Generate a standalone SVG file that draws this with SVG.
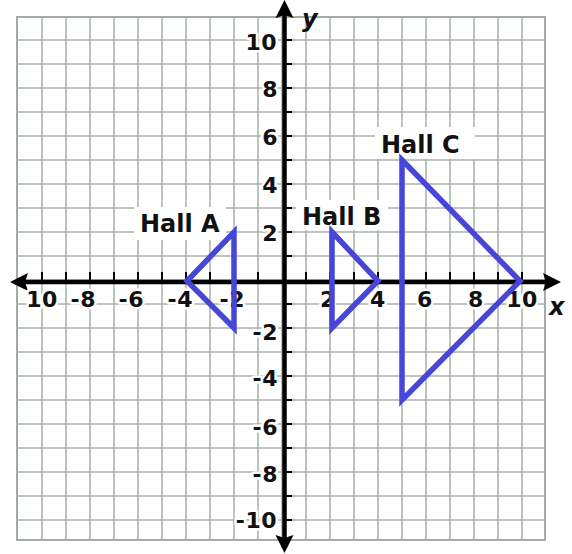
<svg xmlns="http://www.w3.org/2000/svg" width="572" height="554" viewBox="0 0 572 554">
<style>
.grid{stroke:#a9b1a9;stroke-width:1.5;fill:none}
.border{stroke:#a3ada3;stroke-width:2;fill:none}
.axis{stroke:#000;stroke-width:4.5;fill:none}
.tick{stroke:#000;stroke-width:2;fill:none}
.arrow{fill:#000}
.tri{stroke:#4646d8;stroke-width:5.5;fill:none;stroke-linejoin:miter}
.num{font-family:"DejaVu Sans","Liberation Sans",sans-serif;font-weight:bold;font-size:22px;letter-spacing:0.5px;fill:#111;stroke:#fff;stroke-width:5;paint-order:stroke;stroke-linejoin:round}
.lbl{font-family:"DejaVu Sans","Liberation Sans",sans-serif;font-weight:bold;font-size:24px;fill:#111}
.var{font-family:"DejaVu Sans","Liberation Sans",sans-serif;font-weight:bold;font-style:italic;font-size:24px;fill:#111}
.bg{fill:#fff}
</style>
<rect width="572" height="554" fill="#fff"/>
<g id="grid">
<path class="grid" d="M42,17V540M66,17V540M90,17V540M114,17V540M138,17V540M162,17V540M186,17V540M210,17V540M234,17V540M258,17V540M282,17V540M306,17V540M330,17V540M354,17V540M378,17V540M402,17V540M426,17V540M450,17V540M474,17V540M498,17V540M522,17V540"/>
<path class="grid" d="M17,40H545M17,64H545M17,88H545M17,112H545M17,136H545M17,160H545M17,184H545M17,208H545M17,232H545M17,256H545M17,280H545M17,304H545M17,328H545M17,352H545M17,376H545M17,400H545M17,424H545M17,448H545M17,472H545M17,496H545M17,520H545"/>
<rect class="border" x="17" y="17" width="528" height="523"/>
</g>
<g id="label-backgrounds">
<rect class="bg" x="134" y="207" width="92" height="33"/>
<rect class="bg" x="296" y="200" width="92" height="30"/>
<rect class="bg" x="375" y="127" width="100" height="32"/>
</g>
<g id="axes">
<path class="axis" d="M24,282H546M284.5,14V538"/>
<path class="tick" d="M42,272V282M66,272V282M90,272V282M114,272V282M138,272V282M162,272V282M186,272V282M210,272V282M234,272V282M258,272V282M306,272V282M330,272V282M354,272V282M378,272V282M402,272V282M426,272V282M450,272V282M474,272V282M498,272V282M522,272V282"/>
<path class="tick" d="M284,40H292M284,64H292M284,88H292M284,112H292M284,136H292M284,160H292M284,184H292M284,208H292M284,232H292M284,256H292M284,304H292M284,328H292M284,352H292M284,376H292M284,400H292M284,424H292M284,448H292M284,472H292M284,496H292M284,520H292"/>
<polygon class="arrow" points="10,282 28,273 25,282 28,291"/>
<polygon class="arrow" points="561,282 543,273 546,282 543,291"/>
<polygon class="arrow" points="284.5,0 275.5,18 284.5,15 293.5,18"/>
<polygon class="arrow" points="284.5,553 275.5,535 284.5,538 293.5,535"/>
</g>
<g id="x-labels">
<text class="num" x="42" y="307" text-anchor="middle">10</text>
<text class="num" x="96" y="307" text-anchor="end">-8</text>
<text class="num" x="144" y="307" text-anchor="end">-6</text>
<text class="num" x="193" y="307" text-anchor="end">-4</text>
<text class="num" x="245" y="307" text-anchor="end">-2</text>
<text class="num" x="328" y="307" text-anchor="middle">2</text>
<text class="num" x="378" y="307" text-anchor="middle">4</text>
<text class="num" x="425" y="307" text-anchor="middle">6</text>
<text class="num" x="476" y="307" text-anchor="middle">8</text>
<text class="num" x="522" y="307" text-anchor="middle">10</text>
</g>
<g id="y-labels">
<text class="num" x="277" y="50" text-anchor="end">10</text>
<text class="num" x="278" y="97" text-anchor="end">8</text>
<text class="num" x="278" y="145" text-anchor="end">6</text>
<text class="num" x="278" y="193" text-anchor="end">4</text>
<text class="num" x="278" y="240.5" text-anchor="end">2</text>
<text class="num" x="278" y="340" text-anchor="end">-2</text>
<text class="num" x="278" y="386" text-anchor="end">-4</text>
<text class="num" x="278" y="435" text-anchor="end">-6</text>
<text class="num" x="278" y="481.5" text-anchor="end">-8</text>
<text class="num" x="277" y="528" text-anchor="end">-10</text>
</g>
<g id="axis-names">
<text class="var" x="549" y="315">x</text>
<text class="var" x="302" y="27">y</text>
</g>
<g id="hall-a">
<polygon class="tri" points="187,281 234,232 234,328"/>
<text class="lbl" x="140" y="232">Hall A</text>
</g>
<g id="hall-b">
<polygon class="tri" points="332,232 378,281 332,328"/>
<text class="lbl" x="302" y="225">Hall B</text>
</g>
<g id="hall-c">
<polygon class="tri" points="402,160 520,281 402,400"/>
<text class="lbl" x="381" y="153">Hall C</text>
</g>
</svg>
